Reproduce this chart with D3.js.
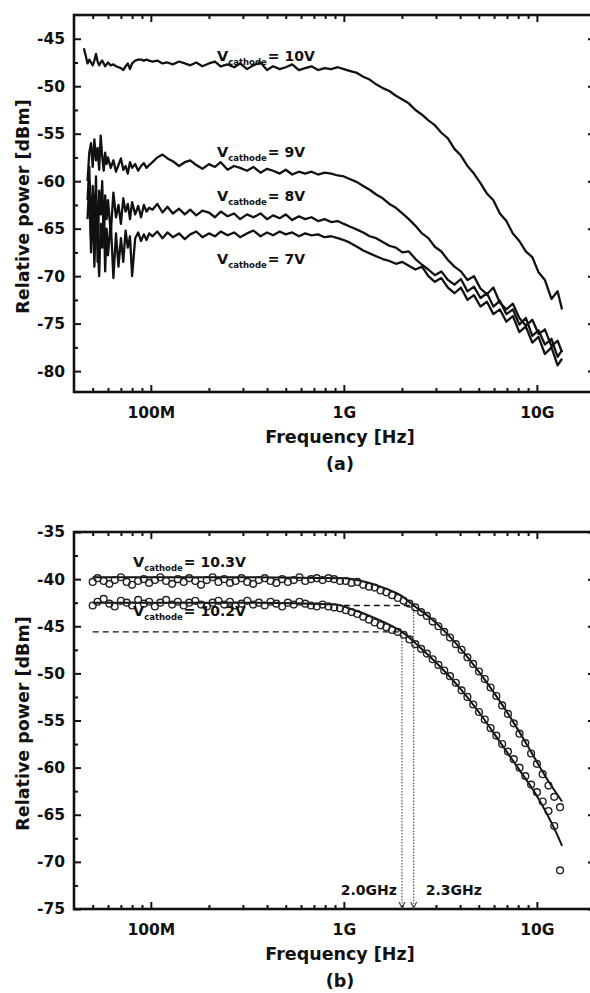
<!DOCTYPE html>
<html>
<head>
<meta charset="utf-8">
<script src="https://d3js.org/d3.v7.min.js"></script>
<style>
  body { margin: 0; background: #fff; }
  svg text { font-family: "DejaVu Sans", sans-serif; font-weight: bold; fill: #111; }
</style>
</head>
<body>
<div id="figure"></div>
<script>

// ---- panel (a): relative power vs frequency for four cathode voltages (freq in MHz)
var freqA = [45, 46, 47, 48, 49, 50, 51, 52, 53, 54, 55, 56, 57, 58, 59, 60, 62, 64, 66, 68, 70, 72, 74, 76, 78, 80, 83, 86, 89, 92, 95, 98,
             102, 108, 115, 122, 130, 140, 150, 160, 172, 185, 200, 215, 230, 250, 270, 290, 315, 340, 370, 400, 430, 465, 500, 540, 585, 630, 680, 735, 795, 860, 930, 1000,
             1080, 1170, 1260, 1360, 1470, 1590, 1720, 1860, 2010, 2170, 2350, 2540, 2740, 2960, 3200, 3460, 3740, 4040, 4370, 4720, 5100, 5510, 5950, 6430, 6950, 7510, 8110, 8760, 9470, 10200, 11000, 11900, 12800, 13500];

var v10 = [-46.0, -46.8, -47.6, -47.2, -47.5, -47.8, -47.3, -46.6, -47.4, -47.8, -47.5, -47.3, -47.6, -47.9, -47.7, -47.5, -47.8, -47.7, -47.9, -48.0, -48.1, -48.3, -47.9, -47.6, -48.2, -47.6, -47.3, -47.2, -47.2, -47.3, -47.2, -47.3,
           -47.4, -47.3, -47.6, -47.5, -47.7, -47.4, -47.6, -47.8, -47.5, -47.9, -47.6, -47.4, -47.9, -47.7, -48.0, -47.6, -48.2, -47.8, -47.5, -48.3, -47.9, -48.2, -48.0, -47.7, -48.3, -48.1, -47.9, -48.3, -48.1, -48.2, -48.0, -48.2,
           -48.4, -48.6, -49.0, -49.3, -49.8, -50.2, -50.5, -51.0, -51.4, -51.8, -52.5, -53.0, -53.6, -54.1, -54.9, -55.5, -56.6, -57.3, -58.4, -59.2, -60.2, -61.3, -62.0, -63.4, -64.2, -65.5, -66.3, -67.4, -68.0, -69.6, -70.4, -72.4, -71.6, -73.5];

var v9 = [null, null, -60.0, -57.0, -56.0, -58.5, -55.6, -57.8, -56.5, -58.8, -55.2, -57.4, -58.9, -57.0, -58.2, -57.5, -58.6, -57.8, -59.0, -58.3, -57.6, -58.8, -58.4, -59.2, -58.0, -58.6, -58.2, -58.9, -58.4, -58.1, -58.6, -58.3,
          -58.0, -57.5, -57.2, -57.6, -57.9, -58.4, -58.0, -57.8, -58.3, -58.7, -58.2, -58.5, -58.0, -58.8, -58.4, -58.6, -58.9, -58.5, -59.1, -58.7, -58.9, -59.2, -58.8, -59.3, -59.0, -59.2, -59.0, -59.3, -59.1, -59.2, -59.4, -59.5,
          -59.8, -60.1, -60.5, -60.9, -61.4, -61.8, -62.4, -62.8, -63.4, -64.0, -64.7, -65.5, -66.0, -66.9, -67.4, -68.3, -69.0, -69.5, -70.4, -70.0, -71.3, -71.9, -71.2, -72.8, -73.5, -72.9, -74.4, -75.2, -74.6, -76.1, -75.6, -77.4, -76.8, -78.0];

var v8 = [null, null, -62.0, -58.5, -66.0, -60.5, -64.8, -59.5, -68.5, -61.0, -63.5, -60.0, -66.5, -61.5, -64.0, -62.0, -65.5, -61.2, -63.8, -62.5, -64.5, -61.8, -63.2, -62.4, -64.0, -62.2, -63.5, -62.6, -63.8, -62.5, -63.2, -62.8,
          -63.0, -62.4, -63.3, -62.7, -63.4, -62.9, -63.5, -63.0, -63.6, -63.1, -63.3, -63.8, -63.2, -63.7, -63.4, -64.0, -63.5, -63.8, -63.4, -64.0, -63.6, -63.9, -63.5, -64.1, -63.7, -64.0, -63.8, -64.2, -64.0, -64.3, -64.2, -64.5,
          -64.8, -65.1, -65.4, -65.8, -66.0, -66.4, -66.8, -67.0, -67.5, -67.4, -68.2, -68.8, -69.3, -69.9, -69.5, -70.4, -70.9, -70.3, -71.6, -71.1, -72.3, -71.8, -73.2, -72.6, -74.0, -73.5, -75.1, -74.4, -76.3, -75.7, -77.2, -76.6, -78.5, -77.8];

var v7 = [null, null, -64.0, -60.0, -67.5, -62.0, -69.0, -63.5, -66.0, -70.0, -64.5, -67.0, -62.5, -69.5, -65.0, -67.8, -64.2, -70.2, -65.5, -69.0, -66.0, -68.5, -65.2, -67.0, -65.8, -70.0, -66.0, -65.4, -66.3, -65.6, -66.2, -65.5,
          -65.8, -65.3, -66.0, -65.4, -65.9, -65.5, -66.1, -65.6, -65.3, -65.9, -65.5, -65.8, -65.3, -65.7, -65.4, -65.9, -65.5, -65.2, -65.8, -65.4, -65.7, -65.3, -65.6, -65.4, -65.8, -65.5, -65.7, -65.6, -65.9, -65.8, -66.0, -66.2,
          -66.5, -66.9, -67.3, -67.6, -67.9, -68.2, -68.4, -68.7, -68.5, -68.9, -69.3, -69.0, -70.0, -70.6, -70.2, -71.2, -71.8, -71.2, -72.5, -72.0, -73.2, -72.7, -74.0, -73.5, -74.8, -74.2, -75.9, -75.3, -77.0, -76.4, -78.2, -77.5, -79.4, -78.7];

var seriesA = [v10, v9, v8, v7];
var labelsA = ["10V", "9V", "8V", "7V"];
var labelYA = [61, 157, 201, 264];

// ---- panel (b): measured points and fitted curves
var freqB = [50, 53, 57, 61, 65, 70, 75, 80, 86, 92, 98, 105, 112, 120, 129, 138, 148, 158, 170, 182,
             195, 209, 224, 240, 257, 275, 295, 316, 339, 363, 389, 417, 447, 479, 513, 550, 589, 631, 676, 724,
             776, 832, 891, 955, 1023, 1096, 1175, 1259, 1349, 1445, 1549, 1660, 1778, 1905, 2042, 2188, 2344, 2512, 2692, 2884,
             3090, 3311, 3548, 3802, 4074, 4365, 4677, 5012, 5370, 5754, 6166, 6607, 7079, 7586, 8128, 8710, 9333, 10000, 10715, 11482,
             12303, 13183];

var m103 = [-40.3, -39.9, -40.2, -40.5, -40.1, -39.8, -40.3, -40.6, -40.2, -40.0, -40.4, -40.1, -39.8, -40.2, -40.5, -40.0, -40.3, -39.9, -40.2, -40.6,
            -40.1, -39.8, -40.3, -40.0, -40.4, -40.2, -39.9, -40.3, -40.5, -40.1, -39.9, -40.2, -40.4, -40.0, -40.3, -40.1, -39.8, -40.2, -40.0, -39.9,
            -40.1, -39.9, -40.0, -40.2, -40.2, -40.4, -40.3, -40.6, -40.8, -40.9, -41.2, -41.4, -41.7, -42.0, -42.3, -42.6, -43.0, -43.5, -43.9, -44.5,
            -45.0, -45.6, -46.2, -46.9, -47.5, -48.3, -49.0, -49.8, -50.6, -51.5, -52.4, -53.4, -54.3, -55.3, -56.4, -57.4, -58.5, -59.6, -60.7, -61.9,
            -63.1, -64.2];

var m102 = [-42.8, -42.4, -42.1, -42.6, -42.9, -42.3, -42.5, -42.8, -42.2, -42.6, -42.4, -42.9, -42.5, -42.2, -42.7, -42.4, -42.8, -42.5, -42.3, -42.7,
            -42.9, -42.5, -42.3, -42.7, -42.4, -42.8, -42.6, -42.3, -42.7, -42.5, -42.8, -42.4, -42.6, -42.9, -42.5, -42.7, -42.4, -42.6, -42.8, -42.9,
            -42.7, -42.9, -43.0, -43.1, -43.3, -43.5, -43.7, -44.0, -44.3, -44.6, -44.9, -45.1, -45.4, -45.6, -45.9, -46.4, -46.9, -47.4, -47.9, -48.5,
            -49.1, -49.7, -50.3, -51.0, -51.8, -52.5, -53.3, -54.1, -54.9, -55.8, -56.6, -57.5, -58.3, -59.1, -60.0, -60.9, -61.8, -62.6, -63.6, -64.6,
            -66.2, -70.9];

var fitFreq103 = [50, 300, 1000, 1300, 1600, 2000, 2300, 2800, 3500, 4500, 5600, 7100, 8900, 11200, 13500];
var fit103 = [-39.8, -39.8, -39.9, -40.3, -40.9, -41.8, -42.8, -44.1, -46.0, -48.6, -51.2, -54.3, -57.6, -61.1, -63.6];
var fitFreq102 = [50, 300, 900, 1100, 1400, 1780, 2000, 2500, 3160, 4000, 5000, 6300, 7900, 10000, 12600, 13500];
var fit102 = [-42.5, -42.5, -42.7, -43.2, -44.0, -45.0, -45.6, -47.3, -49.3, -51.6, -54.1, -57.0, -59.9, -63.0, -66.9, -68.3];

var labelsB = ["10.3V", "10.2V"];
var labelYB = [567, 616];

// -3 dB marks
var cutoffMHz = [2000, 2300];
var cutoffLevel = [-45.6, -42.8];
var dashStartMHz = [50, 1000];
var cutoffText = ["2.0GHz", "2.3GHz"];

var yTicksA = [-45, -50, -55, -60, -65, -70, -75, -80];
var yTicksB = [-35, -40, -45, -50, -55, -60, -65, -70, -75];
var xTicks = [1e8, 1e9, 1e10];
var xTickLabels = ["100M", "1G", "10G"];

var width = 590, height = 993;
var ink = "#111";

var svg = d3.select("#figure").append("svg")
    .attr("width", width)
    .attr("height", height);

var x = d3.scaleLog().domain([4e7, 2e10]).range([74, 595]);

function isDecade(d) {
  var l = Math.log10(d);
  return Math.abs(l - Math.round(l)) < 1e-6;
}

// frame, ticks (inward, mirrored) and labels for one panel
function panel(top, bottom, yDomain, yTicks, caption) {
  var y = d3.scaleLinear().domain(yDomain).range([bottom, top]);
  var left = x.range()[0], right = x.range()[1];
  var g = svg.append("g");

  var xMinor = x.ticks().filter(function (d) {
    return !isDecade(d) && d > x.domain()[0] && d < x.domain()[1];
  });
  var yMinor = yTicks.map(function (d) { return d - 2.5; })
    .filter(function (d) { return d > yDomain[0]; });

  g.append("g").attr("transform", "translate(" + left + ",0)")
    .call(d3.axisLeft(y).tickValues(yTicks).tickSize(-7).tickPadding(9).tickFormat(String));
  g.append("g").attr("transform", "translate(" + left + ",0)")
    .call(d3.axisLeft(y).tickValues(yMinor).tickSize(-4).tickFormat(""));
  g.append("g").attr("transform", "translate(" + right + ",0)")
    .call(d3.axisRight(y).tickValues(yTicks).tickSize(-7).tickFormat(""));
  g.append("g").attr("transform", "translate(" + right + ",0)")
    .call(d3.axisRight(y).tickValues(yMinor).tickSize(-4).tickFormat(""));

  g.append("g").attr("transform", "translate(0," + bottom + ")")
    .call(d3.axisBottom(x).tickValues(xTicks).tickSize(-7).tickPadding(15)
      .tickFormat(function (d, i) { return xTickLabels[i]; }));
  g.append("g").attr("transform", "translate(0," + bottom + ")")
    .call(d3.axisBottom(x).tickValues(xMinor).tickSize(-4).tickFormat(""));
  g.append("g").attr("transform", "translate(0," + top + ")")
    .call(d3.axisTop(x).tickValues(xTicks).tickSize(-7).tickFormat(""));
  g.append("g").attr("transform", "translate(0," + top + ")")
    .call(d3.axisTop(x).tickValues(xMinor).tickSize(-4).tickFormat(""));

  g.selectAll(".domain").remove();
  g.selectAll(".tick line").attr("stroke", ink).attr("stroke-width", 2);
  g.selectAll(".tick text").style("font-size", "15.5px").attr("fill", ink);

  g.append("rect")
    .attr("x", left).attr("y", top)
    .attr("width", right - left).attr("height", bottom - top)
    .attr("fill", "none").attr("stroke", ink).attr("stroke-width", 2.6);

  g.append("text")
    .attr("x", 340).attr("y", bottom + 51)
    .attr("text-anchor", "middle")
    .style("font-size", "17.5px")
    .text("Frequency [Hz]");

  g.append("text")
    .attr("x", 340).attr("y", bottom + 78)
    .attr("text-anchor", "middle")
    .style("font-size", "17.5px")
    .text(caption);

  g.append("text")
    .attr("transform", "translate(29," + ((top + bottom) / 2 + 3) + ") rotate(-90)")
    .attr("text-anchor", "middle")
    .style("font-size", "17.5px")
    .text("Relative power [dBm]");

  return y;
}

function cathodeLabel(px, py, value) {
  var t = svg.append("text").attr("x", px).attr("y", py);
  t.append("tspan").style("font-size", "14.5px").text("V");
  t.append("tspan").style("font-size", "8.5px").attr("dy", 4).text("cathode");
  t.append("tspan").style("font-size", "14px").attr("dy", -4).attr("dx", 1).text("= " + value);
}

// ---- panel (a)
var yA = panel(15, 392, [-82.2, -42.5], yTicksA, "(a)");

var lineA = d3.line()
    .defined(function (d) { return d[1] != null; })
    .x(function (d) { return x(d[0] * 1e6); })
    .y(function (d) { return yA(d[1]); });

seriesA.forEach(function (s) {
  svg.append("path")
    .datum(freqA.map(function (f, i) { return [f, s[i]]; }))
    .attr("d", lineA)
    .attr("fill", "none")
    .attr("stroke", ink)
    .attr("stroke-width", 2.3)
    .attr("stroke-linejoin", "round");
});

labelsA.forEach(function (v, i) { cathodeLabel(217, labelYA[i], v); });

// ---- panel (b)
var yB = panel(532, 909, [-75, -35], yTicksB, "(b)");

var lineB = d3.line()
    .curve(d3.curveMonotoneX)
    .x(function (d) { return x(d[0] * 1e6); })
    .y(function (d) { return yB(d[1]); });

// -3 dB dashed levels and dotted drop lines
cutoffMHz.forEach(function (f, i) {
  svg.append("line")
    .attr("x1", x(dashStartMHz[i] * 1e6)).attr("x2", x(f * 1e6))
    .attr("y1", yB(cutoffLevel[i])).attr("y2", yB(cutoffLevel[i]))
    .attr("stroke", ink).attr("stroke-width", 1.4)
    .attr("stroke-dasharray", "6,4");
  svg.append("line")
    .attr("x1", x(f * 1e6)).attr("x2", x(f * 1e6))
    .attr("y1", yB(cutoffLevel[i])).attr("y2", yB(-75))
    .attr("stroke", "#555").attr("stroke-width", 1.2)
    .attr("stroke-dasharray", "1.5,1.5");
  svg.append("path")
    .attr("d", "M" + (x(f * 1e6) - 3) + "," + (yB(-75) - 7) + "L" + x(f * 1e6) + "," + (yB(-75) - 1) + "L" + (x(f * 1e6) + 3) + "," + (yB(-75) - 7))
    .attr("fill", "none").attr("stroke", "#444").attr("stroke-width", 1.2);
  svg.append("text")
    .attr("x", i === 0 ? x(f * 1e6) - 5 : x(f * 1e6) + 12)
    .attr("y", 895)
    .attr("text-anchor", i === 0 ? "end" : "start")
    .style("font-size", "14px")
    .text(cutoffText[i]);
});

[[fitFreq103, fit103], [fitFreq102, fit102]].forEach(function (s) {
  svg.append("path")
    .datum(s[0].map(function (f, i) { return [f, s[1][i]]; }))
    .attr("d", lineB)
    .attr("fill", "none")
    .attr("stroke", ink)
    .attr("stroke-width", 2);
});

[m103, m102].forEach(function (s) {
  svg.append("g").selectAll("circle")
    .data(freqB.map(function (f, i) { return [f, s[i]]; }))
    .enter()
    .append("circle")
    .attr("cx", function (d) { return x(d[0] * 1e6); })
    .attr("cy", function (d) { return yB(d[1]); })
    .attr("r", 3.4)
    .attr("fill", "none")
    .attr("stroke", "#222")
    .attr("stroke-width", 1.4);
});

labelsB.forEach(function (v, i) { cathodeLabel(133, labelYB[i], v); });

</script>
</body>
</html>
